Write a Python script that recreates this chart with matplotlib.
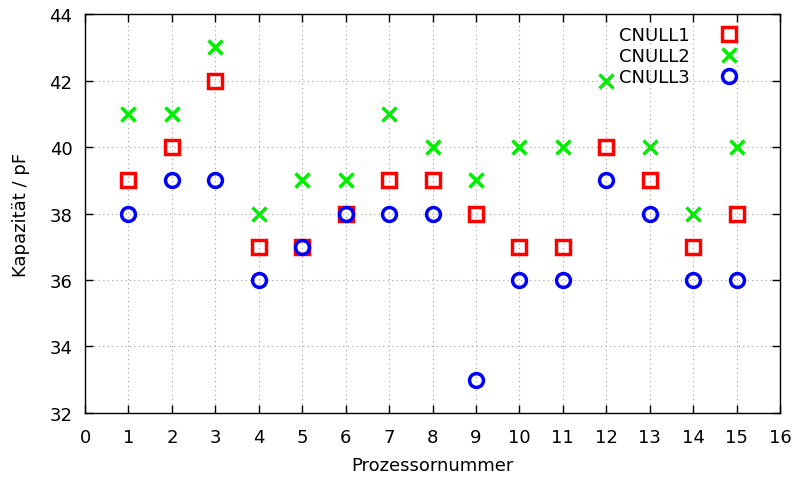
import matplotlib
matplotlib.use("Agg")
import matplotlib.pyplot as plt

# processor numbers and measured capacitances (pF)
prozessor = [1, 2, 3, 4, 5, 6, 7, 8, 9, 10, 11, 12, 13, 14, 15]
cnull1 = [39, 40, 42, 37, 37, 38, 39, 39, 38, 37, 37, 40, 39, 37, 38]
cnull2 = [41, 41, 43, 38, 39, 39, 41, 40, 39, 40, 40, 42, 40, 38, 40]
cnull3 = [38, 39, 39, 36, 37, 38, 38, 38, 33, 36, 36, 39, 38, 36, 36]

xticks = list(range(0, 17))
yticks = [32, 34, 36, 38, 40, 42, 44]

plt.rcParams['font.family'] = 'DejaVu Sans'
plt.rcParams['font.size'] = 13

fig = plt.figure(figsize=(7.93, 4.81), dpi=100)
ax = fig.add_axes([0.1072, 0.1393, 0.8764, 0.8295])

ax.plot(prozessor, cnull1, linestyle='none', marker='s', markersize=10,
        markerfacecolor='none', markeredgecolor='#ff0000', markeredgewidth=2.5,
        label='CNULL1')
ax.plot(prozessor, cnull2, linestyle='none', marker='x', markersize=10,
        markeredgecolor='#00ee00', markeredgewidth=2.5, label='CNULL2')
ax.plot(prozessor, cnull3, linestyle='none', marker='o', markersize=10,
        markerfacecolor='none', markeredgecolor='#0000ff', markeredgewidth=2.5,
        label='CNULL3')

ax.set_xlim(0, 16)
ax.set_ylim(32, 44)
ax.set_xticks(xticks)
ax.set_yticks(yticks)
ax.tick_params(direction='in', top=True, right=True, length=6, width=1, pad=9)
ax.tick_params(axis='x', pad=11)
ax.grid(True, color='#a0a0a0', linestyle=(0, (1, 3)), linewidth=0.8)
for s in ax.spines.values():
    s.set_linewidth(1)

ax.set_xlabel('Prozessornummer', labelpad=7)
ax.set_ylabel('Kapazität / pF', labelpad=14)

ax.legend(loc='upper right', frameon=False, markerfirst=False,
          handletextpad=1.2, labelspacing=0.17, borderaxespad=0,
          bbox_to_anchor=(0.963, 0.988))

fig.savefig('out.png', dpi=100)
